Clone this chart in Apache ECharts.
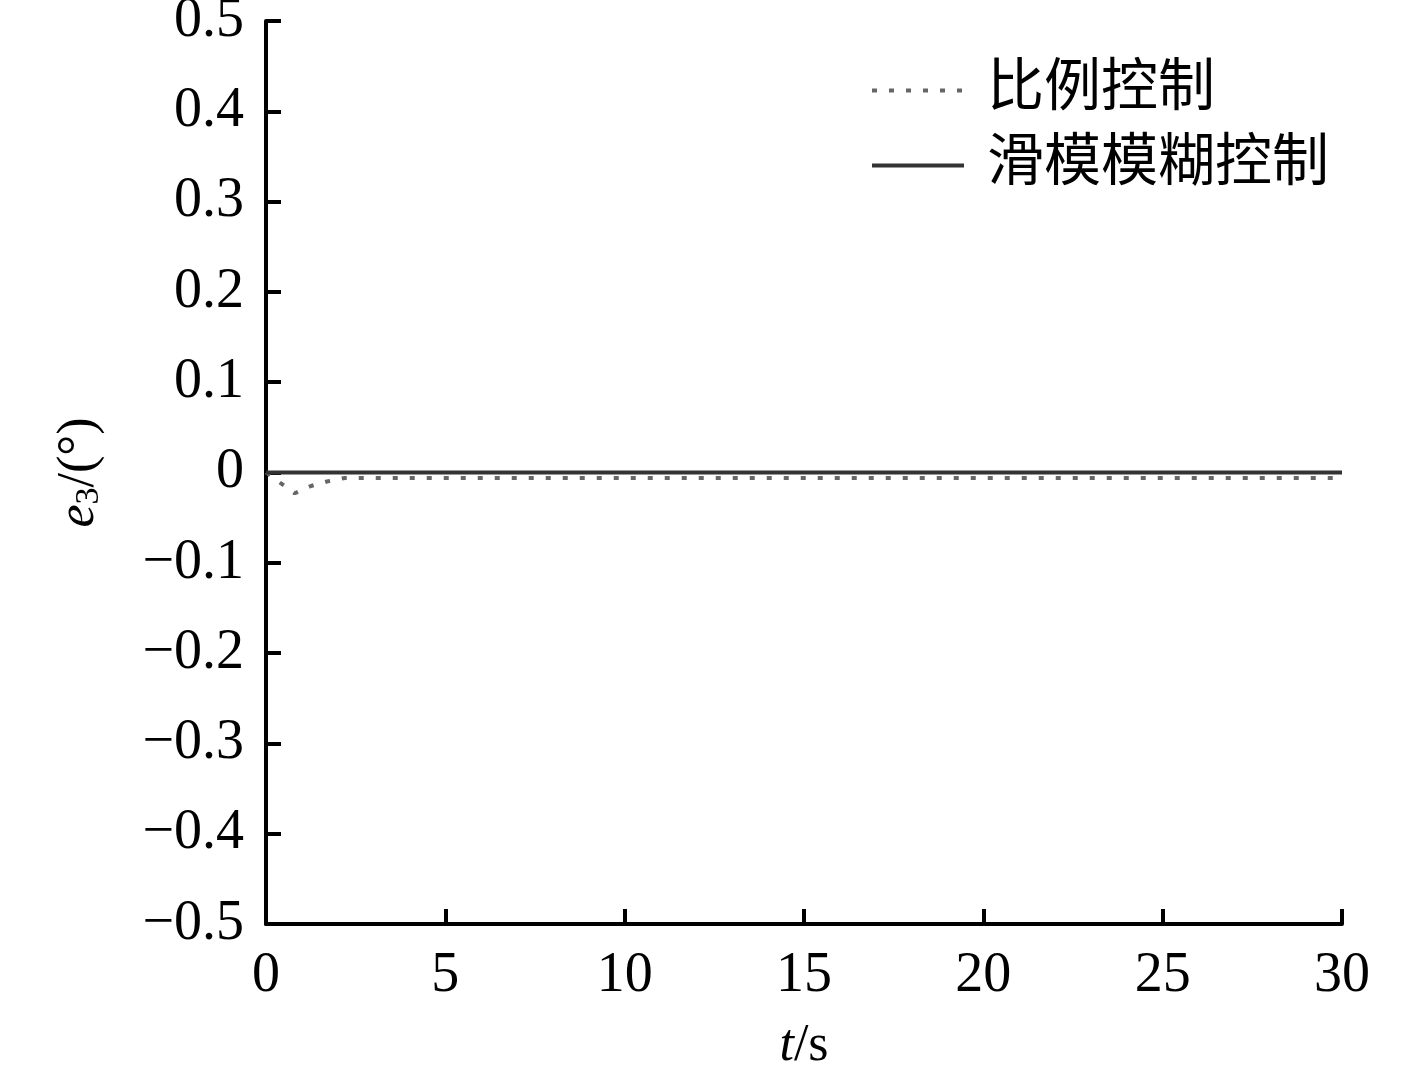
<!DOCTYPE html>
<html>
<head>
<meta charset="utf-8">
<script src="https://cdn.jsdelivr.net/npm/echarts@6/dist/echarts.min.js"></script>
<style>
  html, body { margin: 0; padding: 0; background: #fff; }
  #chart { width: 1417px; height: 1077px; }
</style>
</head>
<body>
<div id="chart"></div>
<script>
// data
const seriesNames = ["比例控制", "滑模模糊控制"];
const propTime = [0, 0.45, 0.8, 1.25, 1.7, 2.2, 30];
const propValue = [0, -0.013, -0.023, -0.015, -0.010, -0.006, -0.006];
const smcTime = [0, 30];
const smcValue = [0, 0];

const FONT = '"Liberation Serif", "Times New Roman", "Noto Sans CJK SC", serif';

const toPairs = (xs, ys) => xs.map((x, i) => [x, ys[i]]);

const fmtY = (v) => {
  const r = Math.round(v * 10) / 10;
  if (r === 0) return "0";
  return r < 0 ? "\u2212" + Math.abs(r).toFixed(1) : r.toFixed(1);
};

const chart = echarts.init(document.getElementById("chart"));

chart.setOption({
  animation: false,
  backgroundColor: "#fff",
  grid: { left: 266, right: 75, top: 21, bottom: 153, outerBoundsMode: "none" },
  legend: {
    orient: "vertical",
    right: 83,
    top: 57,
    itemGap: 18,
    itemWidth: 92,
    itemHeight: 14,
    itemStyle: { opacity: 0 },
    textStyle: { fontFamily: FONT, fontSize: 57, color: "#000", padding: [0, 0, 0, 18] },
    data: [
      { name: seriesNames[0], lineStyle: { color: "#666", width: 4, type: [5, 12] } },
      { name: seriesNames[1], lineStyle: { color: "#333", width: 4, type: "solid" } }
    ]
  },
  xAxis: {
    type: "value",
    min: 0,
    max: 30,
    interval: 5,
    name: "{i|t}{n|/s}",
    nameLocation: "middle",
    nameGap: 96,
    nameTextStyle: {
      rich: {
        i: { fontFamily: FONT, fontSize: 52, fontStyle: "italic", color: "#000" },
        n: { fontFamily: FONT, fontSize: 52, color: "#000" }
      }
    },
    axisLine: { show: true, onZero: false, lineStyle: { color: "#000", width: 4 } },
    axisTick: { show: true, inside: true, length: 15, lineStyle: { color: "#000", width: 4 } },
    axisLabel: { fontFamily: FONT, fontSize: 56, color: "#000", margin: 24 },
    splitLine: { show: false }
  },
  yAxis: {
    type: "value",
    min: -0.5,
    max: 0.5,
    interval: 0.1,
    name: "{i|e}{s|3}{n|/(°)}",
    nameLocation: "middle",
    nameGap: 160,
    nameRotate: 90,
    nameTextStyle: {
      rich: {
        i: { fontFamily: FONT, fontSize: 52, fontStyle: "italic", color: "#000" },
        s: { fontFamily: FONT, fontSize: 34, color: "#000", verticalAlign: "bottom", padding: [20, 0, 0, 0] },
        n: { fontFamily: FONT, fontSize: 52, color: "#000" }
      }
    },
    axisLine: { show: true, onZero: false, lineStyle: { color: "#000", width: 4 } },
    axisTick: { show: true, inside: true, length: 15, lineStyle: { color: "#000", width: 4 } },
    axisLabel: { fontFamily: FONT, fontSize: 56, color: "#000", margin: 22, formatter: fmtY },
    splitLine: { show: false }
  },
  series: [
    {
      name: seriesNames[0],
      type: "line",
      showSymbol: false,
      symbol: "none",
      data: toPairs(propTime, propValue),
      lineStyle: { color: "#666", width: 4, type: [5, 12] },
      itemStyle: { color: "#666" },
      z: 2
    },
    {
      name: seriesNames[1],
      type: "line",
      showSymbol: false,
      symbol: "none",
      data: toPairs(smcTime, smcValue),
      lineStyle: { color: "#333", width: 4, type: "solid" },
      itemStyle: { color: "#333" },
      z: 3
    }
  ]
});
</script>
</body>
</html>
